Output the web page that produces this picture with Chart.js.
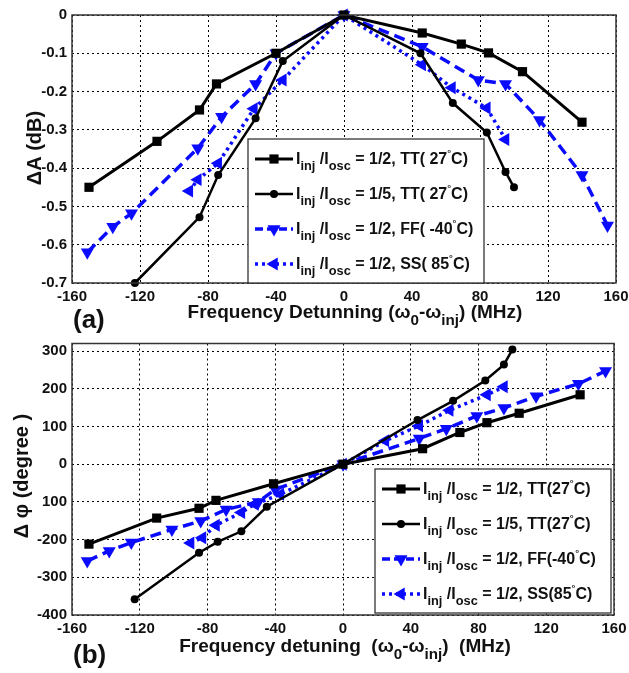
<!DOCTYPE html>
<html>
<head>
<meta charset="utf-8">
<script src="https://cdn.jsdelivr.net/npm/chart.js@4.4.1/dist/chart.umd.min.js"></script>
<style>
  html, body { margin: 0; padding: 0; background: #fff; }
  #wrap { position: relative; width: 629px; height: 673px; }
  canvas { position: absolute; left: 0; }
  #ampChart { top: 0; }
  #phaseChart { top: 336px; }
</style>
</head>
<body>
<div id="wrap">
  <canvas id="ampChart" width="629" height="336"></canvas>
  <canvas id="phaseChart" width="629" height="337"></canvas>
</div>
<script>
// ---- data ----
const seriesLabels = [
    'I_{inj} /I_{osc} = 1/2, TT( 27^{°}C)',
    'I_{inj} /I_{osc} = 1/5, TT( 27^{°}C)',
    'I_{inj} /I_{osc} = 1/2, FF( -40^{°}C)',
    'I_{inj} /I_{osc} = 1/2, SS( 85^{°}C)'
];
const seriesLabelsB = [
    'I_{inj} /I_{osc} = 1/2, TT(27^{°}C)',
    'I_{inj} /I_{osc} = 1/5, TT(27^{°}C)',
    'I_{inj} /I_{osc} = 1/2, FF(-40^{°}C)',
    'I_{inj} /I_{osc} = 1/2, SS(85^{°}C)'
];

const freqTicks = [-160, -120, -80, -40, 0, 40, 80, 120, 160];
const ampTicks = [-0.7, -0.6, -0.5, -0.4, -0.3, -0.2, -0.1, 0];
const ampTickLabels = ['-0.7', '-0.6', '-0.5', '-0.4', '-0.3', '-0.2', '-0.1', '0'];
const phaseTicks = [-400, -300, -200, -100, 0, 100, 200, 300];
const phaseTickLabels = ['-400', '-300', '-200', '100', '0', '100', '200', '300'];

// (a) amplitude change, dB
const ampTT2x = [-150, -110, -85, -75, -40, 0, 46, 69, 85, 105, 140];
const ampTT2y = [-0.45, -0.33, -0.248, -0.18, -0.1, 0, -0.047, -0.076, -0.099, -0.148, -0.28];
const ampTT5x = [-123, -85, -74, -52, -36, 0, 45, 64, 84, 95, 100];
const ampTT5y = [-0.7, -0.528, -0.418, -0.27, -0.12, 0, -0.1, -0.23, -0.307, -0.41, -0.45];
const ampFFx = [-151, -136, -125, -86, -72, -52, -40, 0, 46, 79, 95, 115, 140, 155];
const ampFFy = [-0.62, -0.553, -0.518, -0.348, -0.266, -0.18, -0.1, 0, -0.083, -0.17, -0.18, -0.274, -0.418, -0.55];
const ampSSx = [-91, -86, -74, -53, -36, 0, 46, 63.5, 84, 95];
const ampSSy = [-0.46, -0.43, -0.387, -0.245, -0.17, 0, -0.13, -0.19, -0.243, -0.325];

// (b) phase change, degree
const phTT2x = [-150, -110, -85, -75, -41, 0, 47, 69, 85, 104, 140];
const phTT2y = [-212, -143, -117, -96, -52, 0, 41, 84, 110, 135, 184];
const phTT5x = [-123, -85, -74, -60, -45, 0, 44, 65, 84, 95, 100];
const phTT5y = [-358, -235, -206, -178, -113, 0, 117, 168, 222, 264, 304];
const phFFx = [-151, -138, -125, -101, -84, -69, -50, -40, 0, 45, 61, 79, 95, 114, 139, 155];
const phFFy = [-257, -230, -208, -173, -151, -120, -100, -67, 0, 68, 94, 128, 149, 180, 213, 247];
const phSSx = [-90, -83, -75, -60, -52, -37, 0, 25, 45, 63, 85, 95];
const phSSy = [-209, -195, -162, -128, -106, -80, 0, 62, 102, 143, 184, 205];

const FONT = '"Liberation Sans", Arial, sans-serif';
const BLUE = '#0a0aff';

function pts(xs, ys) {
    return xs.map((x, i) => ({x: x, y: ys[i]}));
}

function makeSets(data, labels) {
    const styles = [
        {borderColor: '#000', backgroundColor: '#000', borderWidth: 3, pointStyle: 'rect', pointRadius: 6.5, rotation: 0, borderDash: []},
        {borderColor: '#000', backgroundColor: '#000', borderWidth: 2.5, pointStyle: 'circle', pointRadius: 4, rotation: 0, borderDash: []},
        {borderColor: BLUE, backgroundColor: BLUE, borderWidth: 3.5, pointStyle: 'triangle', pointRadius: 7.5, rotation: 180, borderDash: [11, 6]},
        {borderColor: BLUE, backgroundColor: BLUE, borderWidth: 3.5, pointStyle: 'triangle', pointRadius: 7.5, rotation: 270, borderDash: [3, 4]}
    ];
    return data.map((d, i) => Object.assign({
        label: labels[i],
        data: d,
        showLine: true,
        clip: false,
        pointBorderWidth: 0,
        pointHoverRadius: 0
    }, styles[i]));
}

// text with _{sub} and ^{sup} parts
function drawRich(ctx, str, x, y, size, align) {
    const parts = [];
    const re = /([_^])\{([^}]*)\}/g;
    let last = 0, m;
    while ((m = re.exec(str)) !== null) {
        if (m.index > last) parts.push({t: str.slice(last, m.index), k: ''});
        parts.push({t: m[2], k: m[1]});
        last = re.lastIndex;
    }
    if (last < str.length) parts.push({t: str.slice(last), k: ''});
    const fontFor = p => 'bold ' + (p.k === '' ? size : p.k === '_' ? size * 0.8 : size * 0.6) + 'px ' + FONT;
    let total = 0;
    parts.forEach(p => { ctx.font = fontFor(p); p.w = ctx.measureText(p.t).width; total += p.w; });
    let cx = align === 'center' ? x - total / 2 : x;
    ctx.textAlign = 'left';
    ctx.textBaseline = 'alphabetic';
    parts.forEach(p => {
        ctx.font = fontFor(p);
        const dy = p.k === '_' ? size * 0.38 : p.k === '^' ? -size * 0.5 : 0;
        ctx.fillText(p.t, cx, y + dy);
        cx += p.w;
    });
}

const decor = {
    id: 'decor',
    afterDraw(chart, args, o) {
        const ctx = chart.ctx;
        const a = chart.chartArea;
        ctx.save();
        ctx.setLineDash([]);
        ctx.strokeStyle = '#333';
        ctx.lineWidth = 1.5;
        ctx.strokeRect(a.left, a.top, a.right - a.left, a.bottom - a.top);

        ctx.fillStyle = '#111';
        drawRich(ctx, o.xTitle, o.xTitleX, o.xTitleY, o.xTitleSize, 'center');
        ctx.font = 'bold 26px ' + FONT;
        ctx.textAlign = 'left';
        ctx.fillText(o.panel, o.panelX, o.panelY);

        ctx.save();
        ctx.translate(o.yTitleX, o.yTitleY);
        ctx.rotate(-Math.PI / 2);
        ctx.font = 'bold 20px ' + FONT;
        ctx.textAlign = 'center';
        ctx.textBaseline = 'middle';
        ctx.fillText(o.yTitle, 0, 0);
        ctx.restore();

        // legend box
        const L = o.legend;
        ctx.fillStyle = '#fff';
        ctx.fillRect(L.x, L.y, L.w, L.h);
        ctx.strokeStyle = '#333';
        ctx.lineWidth = 1.3;
        ctx.strokeRect(L.x, L.y, L.w, L.h);
        chart.data.datasets.forEach((ds, i) => {
            const yy = L.y + L.first + i * L.row;
            ctx.strokeStyle = ds.borderColor;
            ctx.fillStyle = ds.backgroundColor;
            ctx.lineWidth = ds.borderWidth;
            ctx.setLineDash(ds.borderDash.length ? (i === 2 ? [8, 4] : [3, 4]) : []);
            ctx.beginPath();
            ctx.moveTo(L.x + 7, yy);
            ctx.lineTo(L.x + 45, yy);
            ctx.stroke();
            ctx.setLineDash([]);
            Chart.helpers.drawPoint(ctx, {
                pointStyle: ds.pointStyle, rotation: ds.rotation,
                radius: ds.pointRadius, borderWidth: 0
            }, L.x + 26, yy);
            ctx.fillStyle = '#111';
            drawRich(ctx, ds.label, L.x + 48, yy + 5, 16);
        });
        ctx.restore();
    }
};

function fixedX(h) {
    return {
        type: 'linear', min: -160, max: 160,
        afterBuildTicks: s => { s.ticks = freqTicks.map(v => ({value: v})); },
        afterFit: s => { s.height = h; s.paddingLeft = 0; s.paddingRight = 0; },
        grid: {color: '#000', lineWidth: 1, drawTicks: false},
        border: {display: false, dash: [2, 3]},
        ticks: {
            padding: 5, color: '#111', maxRotation: 0,
            font: {family: FONT, size: 15, weight: 'bold'},
            callback: v => String(v)
        }
    };
}

function fixedY(min, max, ticks, labels) {
    return {
        type: 'linear', min: min, max: max,
        afterBuildTicks: s => { s.ticks = ticks.map(v => ({value: v})); },
        afterFit: s => { s.width = 72; s.paddingTop = 0; s.paddingBottom = 0; },
        grid: {color: '#000', lineWidth: 1, drawTicks: false},
        border: {display: false, dash: [2, 3]},
        ticks: {
            padding: 5, color: '#111',
            font: {family: FONT, size: 15, weight: 'bold'},
            callback: v => {
                const k = ticks.findIndex(t => Math.abs(t - v) < 1e-9);
                return k >= 0 ? labels[k] : '';
            }
        }
    };
}

new Chart(document.getElementById('ampChart'), {
    type: 'scatter',
    data: {
        datasets: makeSets([
            pts(ampTT2x, ampTT2y), pts(ampTT5x, ampTT5y),
            pts(ampFFx, ampFFy), pts(ampSSx, ampSSy)
        ], seriesLabels)
    },
    options: {
        responsive: false,
        animation: false,
        layout: {padding: {top: 15, left: 0, right: 13, bottom: 0}},
        scales: {
            x: fixedX(53),
            y: fixedY(-0.7, 0, ampTicks, ampTickLabels)
        },
        plugins: {
            legend: {display: false},
            tooltip: {enabled: false},
            decor: {
                xTitle: 'Frequency Detunning (ω_{0}-ω_{inj}) (MHz)', xTitleX: 355, xTitleY: 318, xTitleSize: 19,
                panel: '(a)', panelX: 73, panelY: 328,
                yTitle: 'ΔA (dB)', yTitleX: 35, yTitleY: 148,
                legend: {x: 248, y: 139, w: 236, h: 144, first: 20, row: 35}
            }
        }
    },
    plugins: [decor]
});

new Chart(document.getElementById('phaseChart'), {
    type: 'scatter',
    data: {
        datasets: makeSets([
            pts(phTT2x, phTT2y), pts(phTT5x, phTT5y),
            pts(phFFx, phFFy), pts(phSSx, phSSy)
        ], seriesLabelsB)
    },
    options: {
        responsive: false,
        animation: false,
        layout: {padding: {top: 6, left: 0, right: 15, bottom: 0}},
        scales: {
            x: fixedX(58),
            y: fixedY(-400, 320, phaseTicks, phaseTickLabels)
        },
        plugins: {
            legend: {display: false},
            tooltip: {enabled: false},
            decor: {
                xTitle: 'Frequency detuning  (ω_{0}-ω_{inj})  (MHz)', xTitleX: 345, xTitleY: 316, xTitleSize: 19,
                panel: '(b)', panelX: 73, panelY: 327,
                yTitle: 'Δ φ (degree )', yTitleX: 22, yTitleY: 140,
                legend: {x: 375, y: 133, w: 236, h: 144, first: 20, row: 35}
            }
        }
    },
    plugins: [decor]
});
</script>
</body>
</html>
